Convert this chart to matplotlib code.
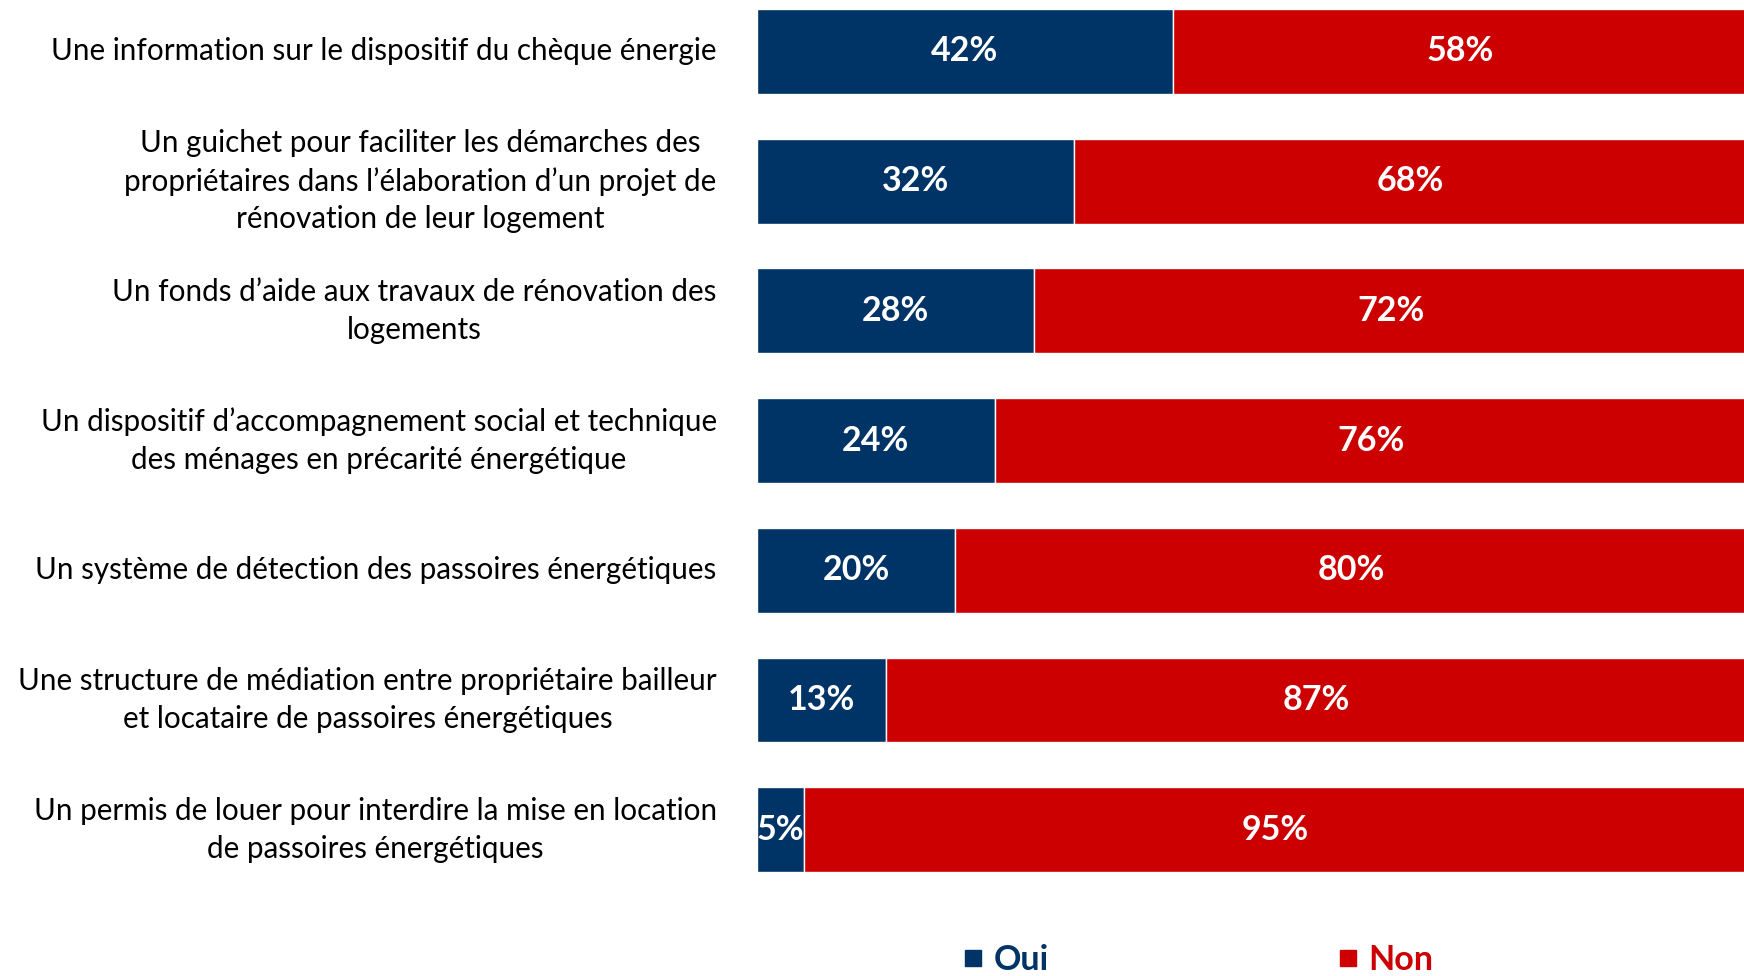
import matplotlib.pyplot as plt
from matplotlib.lines import Line2D

plt.rcParams["font.family"] = ["Lato", "DejaVu Sans"]

categories = [
    "Une information sur le dispositif du chèque énergie",
    "Un guichet pour faciliter les démarches des\npropriétaires dans l’élaboration d’un projet de\nrénovation de leur logement",
    "Un fonds d’aide aux travaux de rénovation des\nlogements",
    "Un dispositif d’accompagnement social et technique\ndes ménages en précarité énergétique",
    "Un système de détection des passoires énergétiques",
    "Une structure de médiation entre propriétaire bailleur\net locataire de passoires énergétiques",
    "Un permis de louer pour interdire la mise en location\nde passoires énergétiques",
]
oui = [42, 32, 28, 24, 20, 13, 4.7]
non = [58, 68, 72, 76, 80, 87, 95.3]

navy = "#003366"
red = "#CC0000"

fig = plt.figure(figsize=(17.44, 9.76), dpi=100)
ax = fig.add_axes([757 / 1744, 0, 990 / 1744, 1])

y = list(range(len(categories)))
b1 = ax.barh(y, oui, height=0.655, color=navy, edgecolor="white", linewidth=1)
b2 = ax.barh(y, non, left=oui, height=0.655, color=red, edgecolor="white", linewidth=1)

ax.bar_label(b1, labels=[f"{v:.0f}%" for v in oui], label_type="center",
             color="white", fontsize=24.5, fontweight="bold")
ax.bar_label(b2, labels=[f"{v:.0f}%" for v in non], label_type="center",
             color="white", fontsize=24.5, fontweight="bold")

ax.set_xlim(0, 100)
ax.set_ylim(7.128, -0.397)
ax.set_yticks(y)
ax.set_yticklabels(categories, fontsize=21.3, ha="right", va="center",
                   multialignment="center", linespacing=1.42)
ax.tick_params(axis="y", length=0, pad=29)
ax.set_xticks([])
for s in ax.spines.values():
    s.set_visible(False)

handles = [
    Line2D([], [], marker="s", linestyle="none", color=navy, markersize=11),
    Line2D([], [], marker="s", linestyle="none", color=red, markersize=11),
]
leg = fig.legend(handles, ["Oui", "Non"], loc="lower left", bbox_to_anchor=(963 / 1744, 0.0),
                 ncol=2, frameon=False, handlelength=0.6, handletextpad=0.3,
                 columnspacing=8.5, labelcolor="markerfacecolor",
                 prop={"size": 24.5, "weight": "bold"}, borderaxespad=0, borderpad=0)

fig.savefig("out.png", dpi=100)
